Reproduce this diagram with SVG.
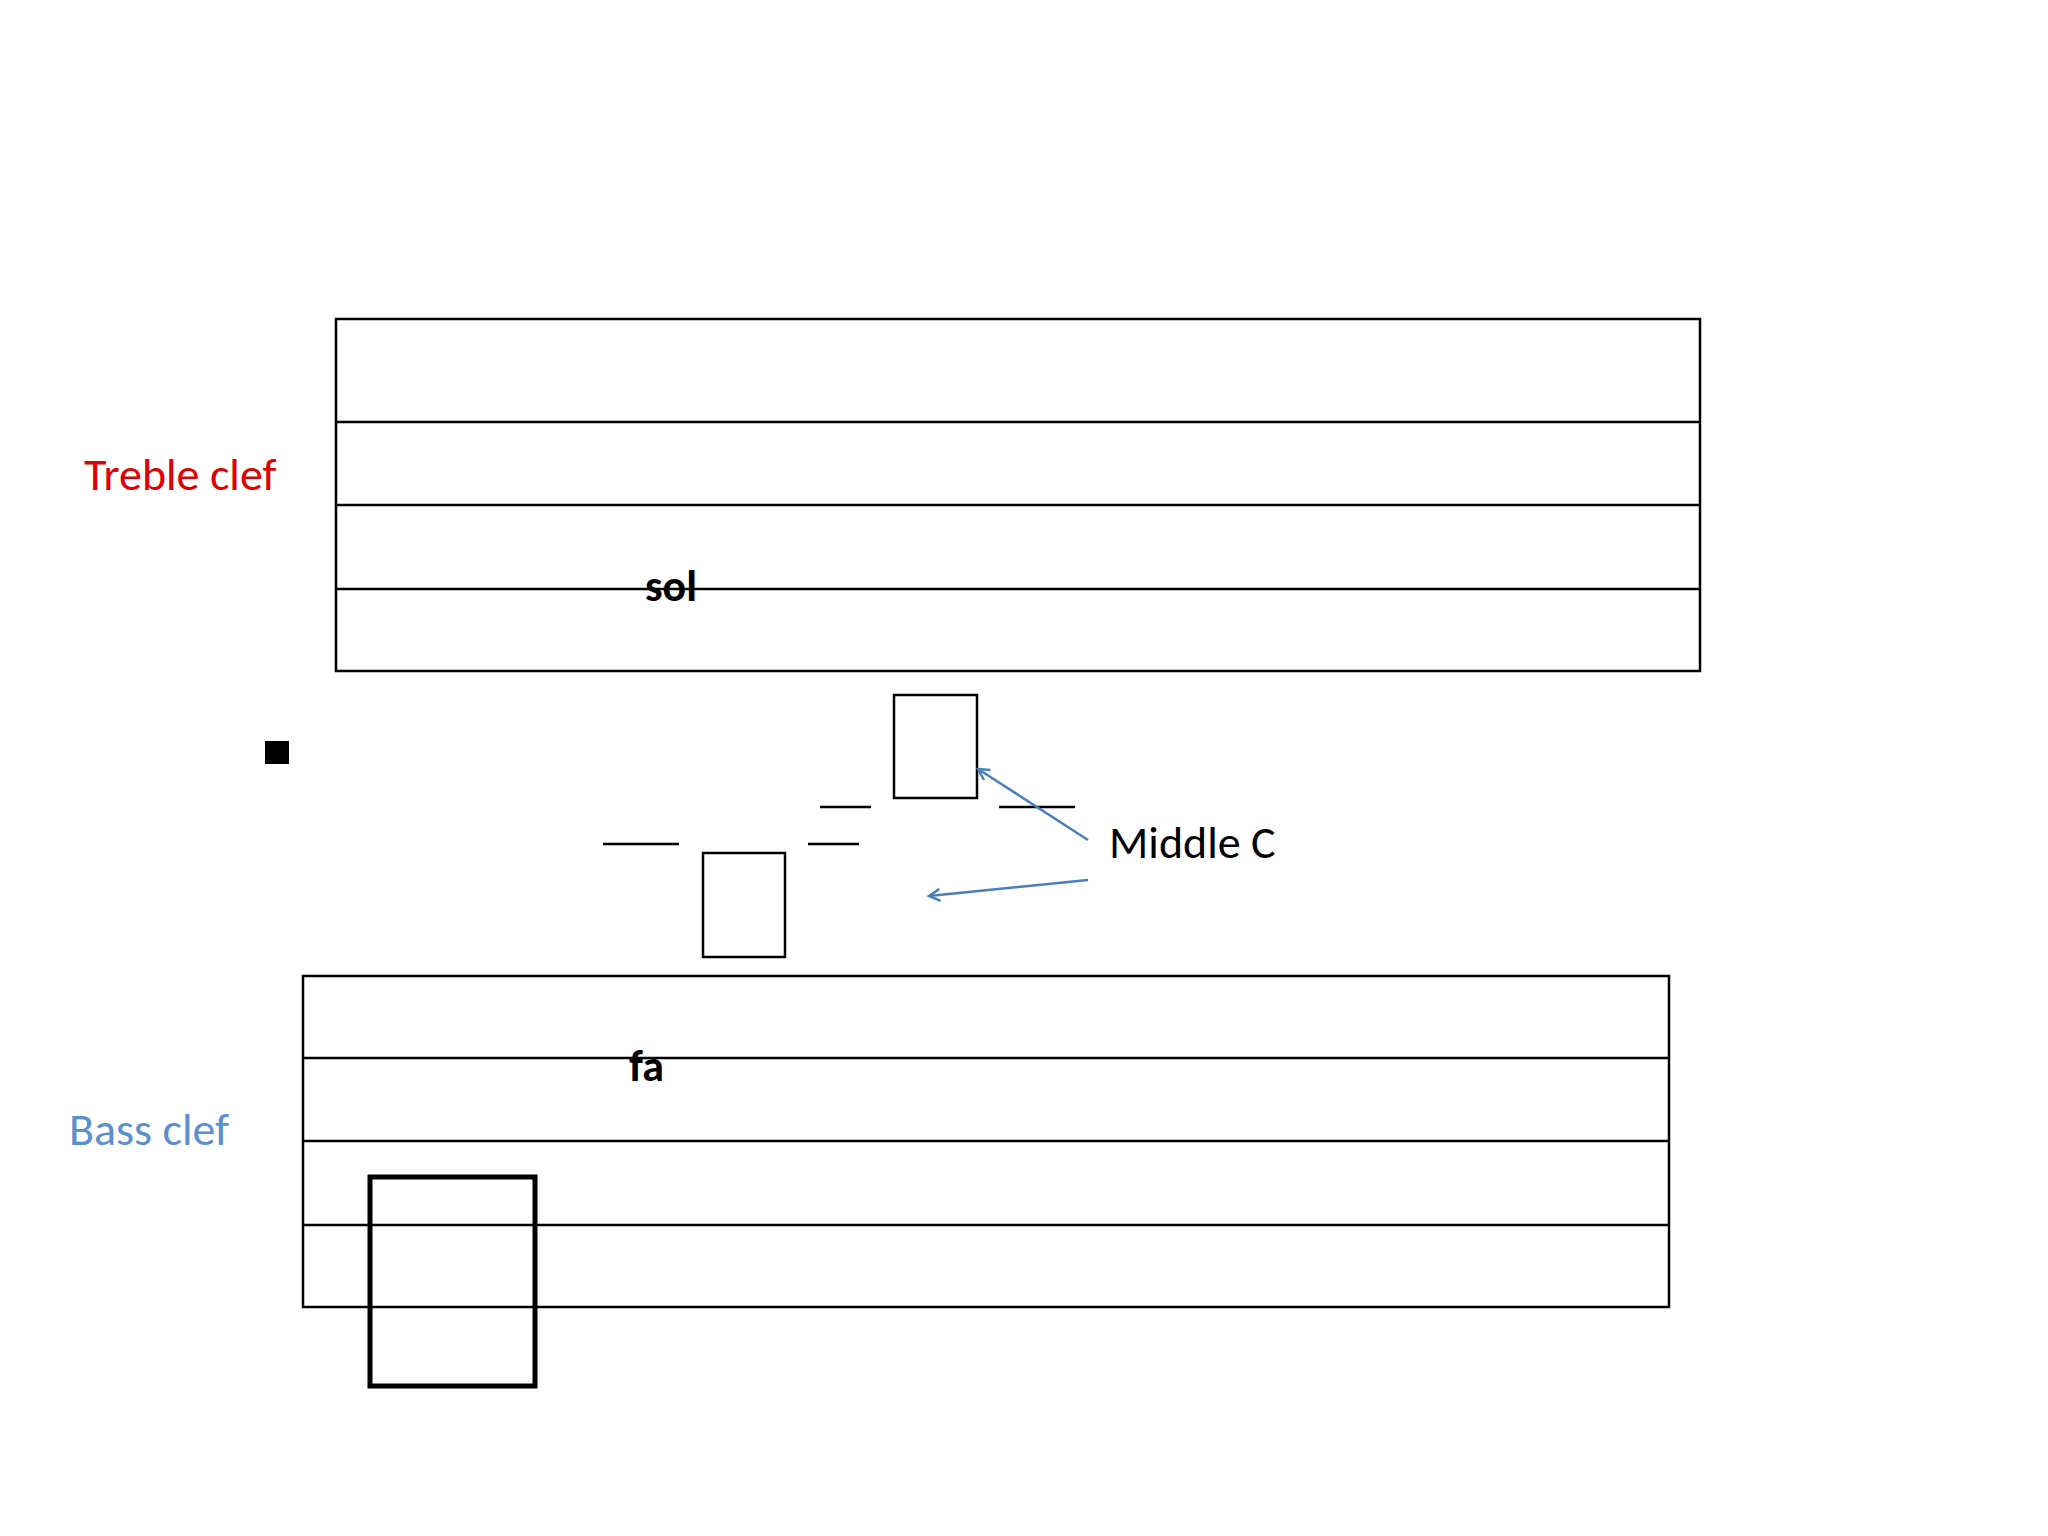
<svg xmlns="http://www.w3.org/2000/svg" width="2048" height="1536" viewBox="0 0 2048 1536">
<defs>
<style>
.s{fill:none;stroke:#000;stroke-width:2.5}
.t{font-family:Carlito,"Open Sans","Liberation Sans",sans-serif;font-size:46px}
.b{font-family:Carlito,"Open Sans","Liberation Sans",sans-serif;font-size:44px;font-weight:bold}
.a{stroke:#4a7ebb;stroke-width:2.5;fill:none}
</style>
<marker id="ah" markerWidth="14" markerHeight="14" refX="12" refY="7" orient="auto" markerUnits="userSpaceOnUse"><path d="M1,1 L12,7 L1,13" fill="none" stroke="#4a7ebb" stroke-width="2.5"/></marker>
</defs>
<rect width="2048" height="1536" fill="#fff"/>
<g id="treble-staff">
<rect class="s" x="336" y="319" width="1364" height="352"/>
<line class="s" x1="336" y1="422" x2="1700" y2="422"/>
<line class="s" x1="336" y1="505" x2="1700" y2="505"/>
<line class="s" x1="336" y1="589" x2="1700" y2="589"/>
<text class="b" x="645" y="601">sol</text>
</g>
<g id="bass-staff">
<rect class="s" x="303" y="976" width="1366" height="331"/>
<line class="s" x1="303" y1="1058" x2="1669" y2="1058"/>
<line class="s" x1="303" y1="1141" x2="1669" y2="1141"/>
<line class="s" x1="303" y1="1225" x2="1669" y2="1225"/>
<text class="b" x="629" y="1081">fa</text>
</g>
<g id="thick-box"><rect x="370" y="1177" width="165" height="209" fill="none" stroke="#000" stroke-width="5"/></g>
<g id="note-upper"><rect class="s" x="894" y="695" width="83" height="103"/></g>
<g id="note-lower"><rect class="s" x="703" y="853" width="82" height="104"/></g>
<g id="bullet"><rect x="265" y="741" width="24" height="23" fill="#000"/></g>
<g id="dashes">
<line class="s" x1="603" y1="844" x2="679" y2="844"/>
<line class="s" x1="808" y1="844" x2="859" y2="844"/>
<line class="s" x1="820" y1="807" x2="871" y2="807"/>
<line class="s" x1="999" y1="807" x2="1075" y2="807"/>
</g>
<g id="labels">
<text class="t" x="84" y="490" fill="#e00000">Treble clef</text>
<text class="t" x="69" y="1145" fill="#5b8fd0">Bass clef</text>
<text class="t" x="1109" y="858" fill="#000">Middle C</text>
</g>
<g id="connectors">
<line class="a" x1="1088" y1="840" x2="978" y2="769" marker-end="url(#ah)"/>
<line class="a" x1="1088" y1="880" x2="929" y2="896" marker-end="url(#ah)"/>
</g>
</svg>
